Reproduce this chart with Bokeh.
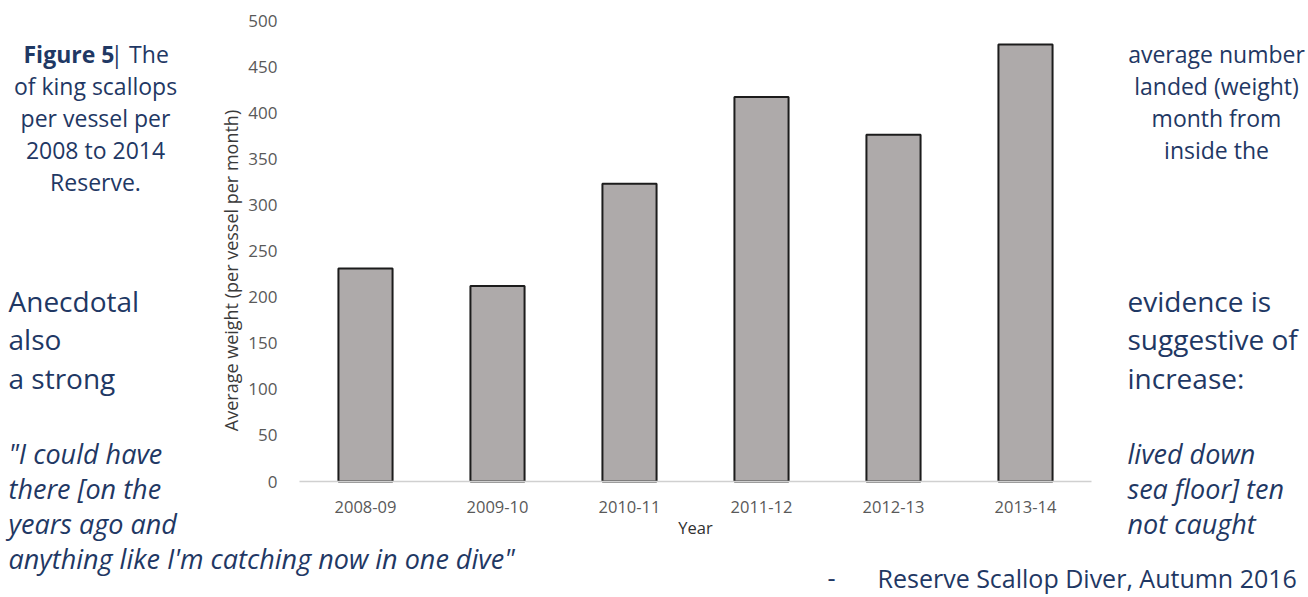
import math

from bokeh.embed import file_html
from bokeh.models import (ColumnDataSource, FixedTicker, Label, Range1d,
                          SingleIntervalTicker)
from bokeh.plotting import figure
from bokeh.resources import INLINE

# ---- data -------------------------------------------------------------
seasons = ["2008-09", "2009-10", "2010-11", "2011-12", "2012-13", "2013-14"]
avg_weight = [231, 212, 323, 417, 376, 474]
y_max = 500
y_step = 50

# ---- page texts ------------------------------------------------------
caption_left = ["of king scallops", "per vessel per", "2008 to 2014", "Reserve."]
caption_right = ["average number", "landed (weight)", "month from", "inside the"]
body_left = ["Anecdotal", "also", "a strong"]
body_right = ["evidence is", "suggestive of", "increase:"]
quote_left = ["\"I could have", "there [on the", "years ago and",
              "anything like I'm catching now in one dive\""]
quote_right = ["lived down", "sea floor] ten", "not caught"]
attribution = "Reserve Scallop Diver, Autumn 2016"

NAVY = "#1f3864"
FONT = "Open Sans"

W, H = 1308, 597
# chart area inside the page (pixels from top-left)
AREA_L, AREA_R, AREA_T, AREA_B = 299, 1091, 20, 481

n = len(seasons)
slot = (AREA_R - AREA_L) / n          # pixels per category
unit = (AREA_B - AREA_T) / y_max      # pixels per kg

# category k sits at x = k (1..n); the frame covers the whole page
positions = list(range(1, n + 1))
x_range = Range1d(0.5 - AREA_L / slot, 0.5 + (W - AREA_L) / slot)
y_range = Range1d(-(H - AREA_B) / unit, y_max + AREA_T / unit)

src = ColumnDataSource(dict(pos=positions, season=seasons, weight=avg_weight))

p = figure(
    width=W, height=H, x_range=x_range, y_range=y_range,
    output_backend="svg", toolbar_location=None, min_border=0,
)
p.outline_line_color = None
p.background_fill_color = "white"
p.border_fill_color = "white"
p.xgrid.grid_line_color = None
p.ygrid.grid_line_color = None

p.vbar(x="pos", top="weight", width=0.41, source=src,
       fill_color="#aeaaaa", line_color="#1c1c1c", line_width=2)

# x axis, pinned to the zero line
xa = p.xaxis[0]
xa.fixed_location = 0
xa.bounds = (0.5, n + 0.5)
xa.ticker = FixedTicker(ticks=positions)
xa.major_label_overrides = {k: s for k, s in zip(positions, seasons)}
xa.axis_line_color = "#d0d0d0"
xa.axis_line_width = 1.5
xa.major_tick_line_color = None
xa.minor_tick_line_color = None
xa.major_label_text_font = FONT
xa.major_label_text_font_size = "16.5px"
xa.major_label_text_color = "#595959"
xa.major_label_standoff = 13
xa.axis_label = "Year"
xa.axis_label_text_font = FONT
xa.axis_label_text_font_size = "16.5px"
xa.axis_label_text_font_style = "normal"
xa.axis_label_text_color = "#303030"
xa.axis_label_standoff = 0

# y axis, pinned to the left edge of the first category
ya = p.yaxis[0]
ya.fixed_location = 0.5
ya.bounds = (0, y_max)
ya.ticker = SingleIntervalTicker(interval=y_step, num_minor_ticks=0)
ya.axis_line_color = None
ya.major_tick_line_color = None
ya.minor_tick_line_color = None
ya.major_label_text_font = FONT
ya.major_label_text_font_size = "17px"
ya.major_label_text_color = "#595959"
ya.major_label_standoff = 16


def put(text, x, y, size, align="left", style="normal", color=NAVY,
        angle=0.0, baseline="alphabetic"):
    """Place text at page pixel (x, y), measured from the top-left corner."""
    p.add_layout(Label(
        x=x, y=H - y, x_units="screen", y_units="screen",
        text=text, text_font=FONT, text_font_size=f"{size}px",
        text_font_style=style, text_color=color, text_align=align,
        text_baseline=baseline, angle=angle,
    ))


# y axis title
put("Average weight (per vessel per month)", 230, 270, 18, align="center",
    color="#3a3a3a", angle=math.pi / 2, baseline="middle")

# figure caption
put("Figure 5", 23, 53, 23, style="bold")
put("| The", 110, 53, 23)
for i, line in enumerate(caption_left):
    put(line, 95, 85 + 32 * i, 23, align="center")
for i, line in enumerate(caption_right):
    put(line, 1216, 53 + 32 * i, 23, align="center")

# paragraph
for i, line in enumerate(body_left):
    put(line, 8, 300 + 38.5 * i, 28)
for i, line in enumerate(body_right):
    put(line, 1127, 300 + 38.5 * i, 28)

# quotation
for i, line in enumerate(quote_left):
    put(line, 8, 453 + 35 * i, 27, style="italic")
for i, line in enumerate(quote_right):
    put(line, 1127, 453 + 35 * i, 27, style="italic")

# attribution
put("-", 831, 577, 25, align="center")
put(attribution, 877, 577, 25)

open("out.html", "w").write(file_html(p, INLINE))
